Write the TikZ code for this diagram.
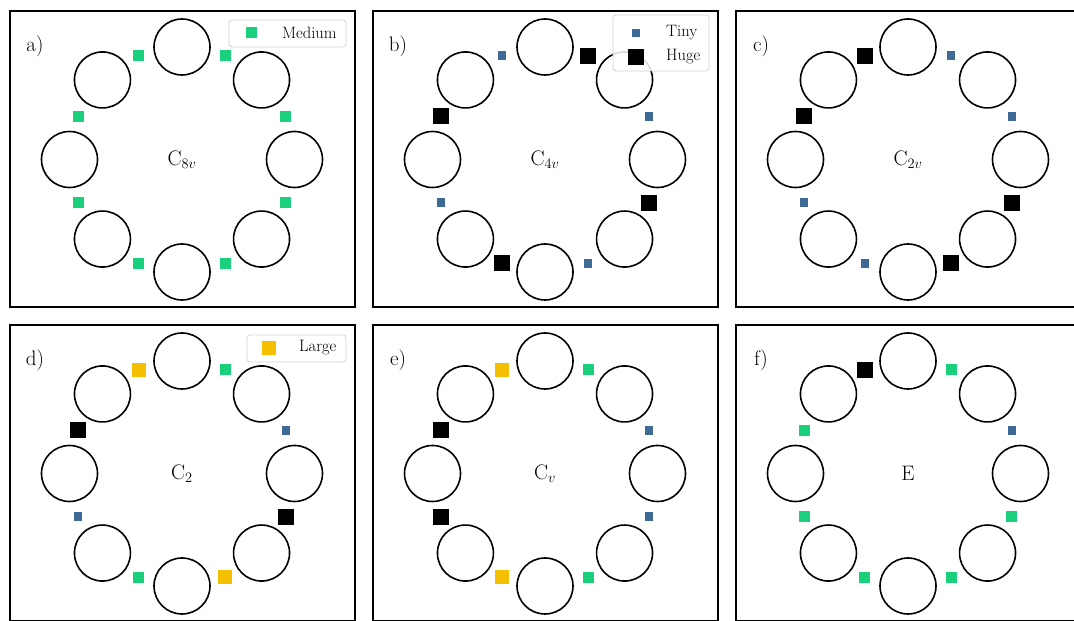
\documentclass[tikz,border=0pt]{standalone}
\usetikzlibrary{calc}
\definecolor{cmed}{RGB}{26,208,124}
\definecolor{ctiny}{RGB}{62,106,150}
\definecolor{clrg}{RGB}{245,192,0}
\tikzset{
  ring/.style={circle, draw=black, line width=1.6pt, minimum size=56pt, inner sep=0pt},
  frm/.style={draw=black, line width=1.8pt},
  sqT/.style={rectangle, fill=ctiny, minimum size=8.5pt, inner sep=0pt},
  sqM/.style={rectangle, fill=cmed, minimum size=11pt, inner sep=0pt},
  sqL/.style={rectangle, fill=clrg, minimum size=14pt, inner sep=0pt},
  sqH/.style={rectangle, fill=black, minimum size=16pt, inner sep=0pt},
  lbl/.style={font=\fontsize{21}{25}\selectfont, inner sep=0pt},
  legtxt/.style={font=\fontsize{16.5}{19}\selectfont, inner sep=0pt, anchor=west},
  leg/.style={draw=black!18, fill=white, fill opacity=0.85, draw opacity=1, rounded corners=3pt, line width=0.8pt}
}
\newcommand\mypanel[6]{%
  \coordinate (#1o) at (#2,#3);
  \draw[frm] ($(#1o)+(-172,-147.5)$) rectangle ($(#1o)+(173,148.5)$);
  \node[lbl] (#1lab) at ($(#1o)+(-147,113.5)$) {#4)};
  \node[lbl] (#1ctr) at (#1o) {#5};
  \foreach \k in {0,...,7} {\node[ring] (#1c\k) at ($(#1o)+(\k*45:112.5)$) {};}
  \foreach \s [count=\k from 0] in {#6} {\node[sq\s] (#1s\k) at ($(#1o)+(22.5+\k*45:112.5)$) {};}
}
\begin{document}
\begin{tikzpicture}[x=1pt,y=1pt]
\useasboundingbox (0,0) rectangle (1074,621);
\clip (0,0) rectangle (1074,621);
\mypanel{a}{182}{461.5}{a}{C$_{8v}$}{M,M,M,M,M,M,M,M}
\mypanel{b}{545}{461.5}{b}{C$_{4v}$}{T,H,T,H,T,H,T,H}
\mypanel{c}{908}{461.5}{c}{C$_{2v}$}{T,T,H,H,T,T,H,H}
\mypanel{d}{182}{147.5}{d}{C$_{2}$}{T,M,L,H,T,M,L,H}
\mypanel{e}{545}{147.5}{e}{C$_{v}$}{T,M,L,H,H,L,M,T}
\mypanel{f}{908}{147.5}{f}{E}{T,M,H,M,M,M,M,M}
% legends
\draw[leg] (229,574) rectangle (346,601);
\node[sqM] (lgM) at (251,588) {};
\node[legtxt] (lgMt) at (282,588) {Medium};
\draw[leg] (613,550) rectangle (709,606);
\node[sqT] (lgT) at (636,588) {};
\node[legtxt] (lgTt) at (666,588) {Tiny};
\node[sqH] (lgH) at (636,564) {};
\node[legtxt] (lgHt) at (666,564) {Huge};
\draw[leg] (247,259) rectangle (346,286);
\node[sqL] (lgL) at (269,273) {};
\node[legtxt] (lgLt) at (299,273) {Large};
\end{tikzpicture}
\end{document}
